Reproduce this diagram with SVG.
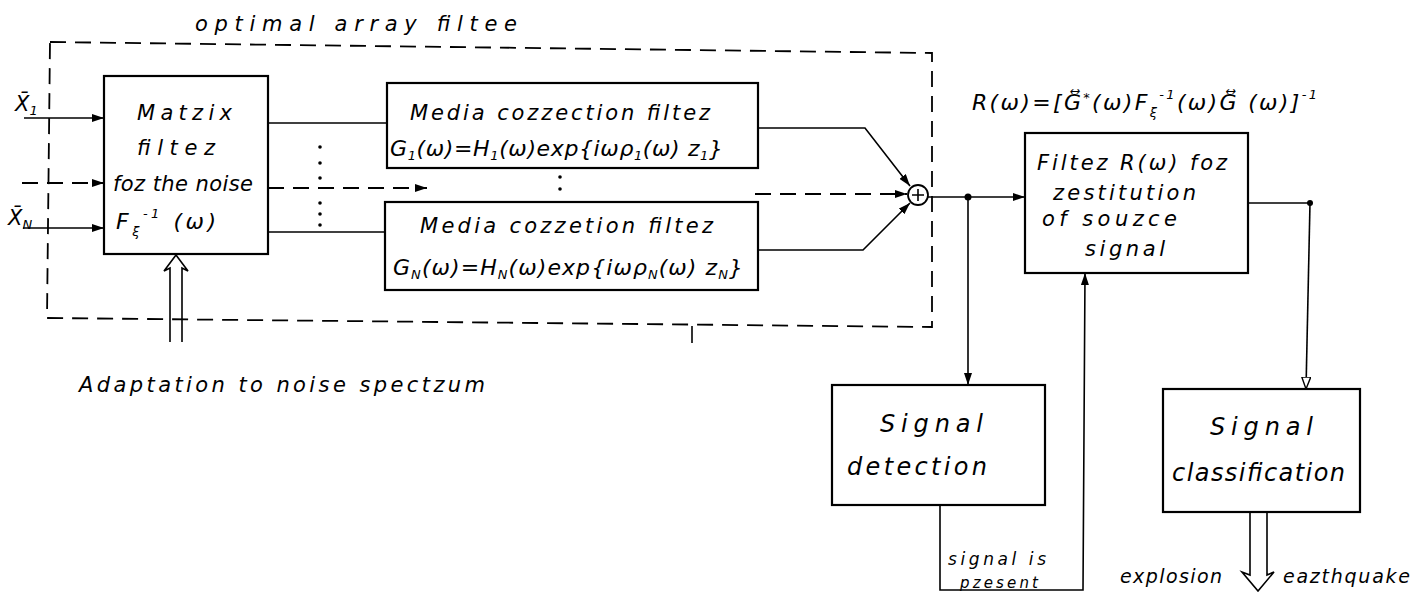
<svg xmlns="http://www.w3.org/2000/svg" width="1426" height="597" viewBox="0 0 1426 597">
<defs>
<style>
.box{fill:#fff;stroke:#000;stroke-width:2.2}
.ln{fill:none;stroke:#000;stroke-width:1.6}
.dash{fill:none;stroke:#000;stroke-width:1.8;stroke-dasharray:16 9}
.t{font-family:"DejaVu Sans","Liberation Sans",sans-serif;font-style:italic;font-size:21px;fill:#000}
.f{font-size:22px}
.s{font-size:13px}
.big{font-size:24px}
.dot{fill:#000}
</style>
<marker id="ah" viewBox="0 0 12 8" refX="12" refY="4" markerWidth="12" markerHeight="8" markerUnits="userSpaceOnUse" orient="auto">
<path d="M0,0 L12,4 L0,8 z" fill="#000"/>
</marker>
<marker id="oh" viewBox="0 0 12 10" refX="12" refY="5" markerWidth="12" markerHeight="10" markerUnits="userSpaceOnUse" orient="auto">
<path d="M0,0.5 L12,5 L0,9.5 z" fill="#fff" stroke="#000" stroke-width="1.4"/>
</marker>
</defs>
<rect width="1426" height="597" fill="#fff"/>

<g id="optimal-array-filter">
<path class="dash" d="M50,42 L932,53 L932,327 L47,318 Z"/>
<text class="t" x="195" y="31" textLength="322" lengthAdjust="spacing">optimal array filtee</text>
</g>

<g id="connectors">
<line class="ln" x1="24" y1="118" x2="104" y2="118" marker-end="url(#ah)"/>
<line class="dash" x1="22" y1="183" x2="104" y2="183" stroke-width="1.6" marker-end="url(#ah)"/>
<line class="ln" x1="23" y1="228" x2="104" y2="228" marker-end="url(#ah)"/>
<line class="ln" x1="268" y1="123" x2="387" y2="123"/>
<line class="ln" x1="268" y1="232" x2="385" y2="232"/>
<line class="dash" x1="268" y1="188" x2="427" y2="188" stroke-width="1.6" marker-end="url(#ah)"/>
<g class="dot">
<circle cx="320" cy="147" r="1.8"/><circle cx="320" cy="163" r="1.8"/><circle cx="320" cy="178" r="1.8"/>
<circle cx="320" cy="203" r="1.8"/><circle cx="320" cy="214" r="1.8"/><circle cx="320" cy="225" r="1.8"/>
<circle cx="560" cy="177" r="1.8"/><circle cx="560" cy="189" r="1.8"/>
</g>
<line class="dash" x1="755" y1="194" x2="907" y2="194" stroke-width="1.6" marker-end="url(#ah)"/>
<polyline class="ln" points="758,128 865,128 910,186" marker-end="url(#ah)"/>
<polyline class="ln" points="758,250 863,250 910,203" marker-end="url(#ah)"/>
<line class="ln" x1="928" y1="197" x2="1025" y2="197" marker-end="url(#ah)"/>
<circle class="dot" cx="968" cy="197" r="3.5"/>
<line class="ln" x1="968" y1="197" x2="968" y2="385" marker-end="url(#ah)"/>
<line class="ln" x1="1248" y1="203" x2="1310" y2="203"/>
<circle class="dot" cx="1310" cy="203" r="3"/>
<line class="ln" x1="1310" y1="203" x2="1306" y2="389" marker-end="url(#oh)"/>
<polyline class="ln" points="940,505 940,590 1083,590 1085,273" marker-end="url(#ah)"/>
<line class="ln" x1="692" y1="326" x2="692" y2="343"/>
<path class="ln" d="M170,342 V268 L164,271 L176,255 L188,271 L182,268 V342" fill="#fff"/>
<path class="ln" d="M1250,512 V575 L1242,572 L1258,591 L1274,572 L1267,575 V512" fill="#fff"/>
</g>

<g id="inputs">
<text class="t" x="15" y="111">X̄<tspan class="s" dy="4">1</tspan></text>
<text class="t" x="8" y="225">X̄<tspan class="s" dy="4">N</tspan></text>
</g>

<g id="matrix-filter">
<rect class="box" x="104" y="76" width="164" height="178"/>
<text class="t" x="137" y="120" textLength="95" lengthAdjust="spacing">Matzix</text>
<text class="t" x="137" y="155" textLength="78" lengthAdjust="spacing">filtez</text>
<text class="t" x="113" y="191" textLength="140" lengthAdjust="spacing">foz the noise</text>
<text class="t f" x="116" y="229" textLength="100" lengthAdjust="spacing">F<tspan class="s" dy="7">ξ</tspan><tspan class="s" dy="-18">-1</tspan><tspan dy="11"> (ω)</tspan></text>
</g>

<g id="media-filter-1">
<rect class="box" x="387" y="83" width="371" height="85"/>
<text class="t" x="410" y="120" textLength="300" lengthAdjust="spacing">Media cozzection filtez</text>
<text class="t f" x="390" y="156" textLength="333" lengthAdjust="spacing">G<tspan class="s" dy="4">1</tspan><tspan dy="-4">(ω)=H</tspan><tspan class="s" dy="4">1</tspan><tspan dy="-4">(ω)exp{iωρ</tspan><tspan class="s" dy="4">1</tspan><tspan dy="-4">(ω) z</tspan><tspan class="s" dy="4">1</tspan><tspan dy="-4">}</tspan></text>
</g>

<g id="media-filter-n">
<rect class="box" x="385" y="202" width="373" height="88"/>
<text class="t" x="420" y="233" textLength="293" lengthAdjust="spacing">Media cozzetion filtez</text>
<text class="t f" x="393" y="275" textLength="350" lengthAdjust="spacing">G<tspan class="s" dy="4">N</tspan><tspan dy="-4">(ω)=H</tspan><tspan class="s" dy="4">N</tspan><tspan dy="-4">(ω)exp{iωρ</tspan><tspan class="s" dy="4">N</tspan><tspan dy="-4">(ω) z</tspan><tspan class="s" dy="4">N</tspan><tspan dy="-4">}</tspan></text>
</g>

<g id="summator">
<circle cx="918" cy="195" r="10" fill="#fff" stroke="#000" stroke-width="1.8"/>
<path class="ln" d="M912,195 H924 M918,189 V201"/>
</g>

<g id="restitution-filter">
<text class="t f" x="972" y="110" textLength="345" lengthAdjust="spacing">R(ω)=[G⃡<tspan class="s" dy="-8">*</tspan><tspan dy="8">(ω)F</tspan><tspan class="s" dy="7">ξ</tspan><tspan class="s" dy="-18">-1</tspan><tspan dy="11">(ω)G⃡ (ω)]</tspan><tspan class="s" dy="-11">-1</tspan></text>
<rect class="box" x="1025" y="133" width="223" height="140"/>
<text class="t" x="1037" y="170" textLength="190" lengthAdjust="spacing">Filtez R(ω) foz</text>
<text class="t" x="1053" y="200" textLength="143" lengthAdjust="spacing">zestitution</text>
<text class="t" x="1042" y="226" textLength="135" lengthAdjust="spacing">of  souzce</text>
<text class="t" x="1085" y="256" textLength="80" lengthAdjust="spacing">signal</text>
</g>

<g id="signal-detection">
<rect class="box" x="832" y="385" width="213" height="120"/>
<text class="t big" x="880" y="432" textLength="103" lengthAdjust="spacing">Signal</text>
<text class="t big" x="847" y="475" textLength="140" lengthAdjust="spacing">detection</text>
<text class="t" x="948" y="565" style="font-size:17px" textLength="98" lengthAdjust="spacing">signal is</text>
<text class="t" x="960" y="588" style="font-size:15px" textLength="78" lengthAdjust="spacing">pzesent</text>
</g>

<g id="signal-classification">
<rect class="box" x="1163" y="389" width="197" height="123"/>
<text class="t big" x="1210" y="435" textLength="103" lengthAdjust="spacing">Signal</text>
<text class="t big" x="1172" y="481" textLength="173" lengthAdjust="spacing">classification</text>
<text class="t" x="1120" y="583" style="font-size:19px" textLength="102" lengthAdjust="spacing">explosion</text>
<text class="t" x="1283" y="583" style="font-size:19px" textLength="127" lengthAdjust="spacing">eazthquake</text>
</g>

<g id="adaptation">
<text class="t" x="79" y="392" textLength="406" lengthAdjust="spacing">Adaptation to noise spectzum</text>
</g>
</svg>
